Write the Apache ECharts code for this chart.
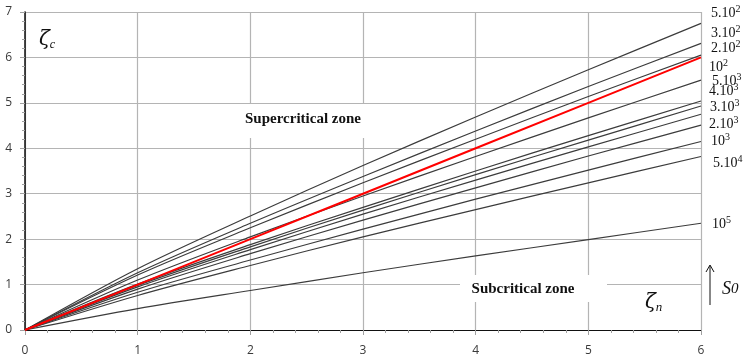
<!DOCTYPE html>
<html>
<head>
<meta charset="utf-8">
<script src="https://cdn.jsdelivr.net/npm/echarts@6/dist/echarts.min.js"></script>
<style>html,body{margin:0;padding:0;background:#fff}#c{width:746px;height:360px}</style>
</head>
<body>
<div id="c"></div>
<script>
// x positions (zeta_n) where curves are read
var xs = [0, 1, 2, 3, 4, 5, 6];
// gray/black curves (zeta_c values read at xs)
var curve1  = [0, 1.35, 2.51, 3.62, 4.69, 5.73, 6.75];
var curve2  = [0, 1.26, 2.35, 3.38, 4.38, 5.36, 6.31];
var curve3  = [0, 1.21, 2.25, 3.24, 4.20, 5.14, 6.05];
var curve4  = [0, 1.10, 2.05, 2.95, 3.82, 4.67, 5.50];
var curve5  = [0, 1.01, 1.88, 2.70, 3.50, 4.28, 5.04];
var curve6  = [0, 0.98, 1.83, 2.64, 3.42, 4.18, 4.93];
var curve7  = [0, 0.95, 1.77, 2.55, 3.30, 4.03, 4.75];
var curve8  = [0, 0.90, 1.68, 2.42, 3.13, 3.83, 4.51];
var curve9  = [0, 0.83, 1.54, 2.22, 2.88, 3.52, 4.15];
var curve10 = [0, 0.76, 1.42, 2.05, 2.65, 3.24, 3.82];
var curve11 = [0, 0.47, 0.87, 1.26, 1.63, 1.99, 2.35];
// critical (red) line
var critical = [0, 1, 2, 3, 4, 5, 6];
var grayCurves = [curve1, curve2, curve3, curve4, curve5, curve6, curve7, curve8, curve9, curve10, curve11];
// S0 labels on the right
var s0Labels = [
  ['5.10', '2'], ['3.10', '2'], ['2.10', '2'], ['10', '2'],
  ['5.10', '3'], ['4.10', '3'], ['3.10', '3'], ['2.10', '3'],
  ['10', '3'], ['5.10', '4'], ['10', '5']
];
var xTicks = [0, 1, 2, 3, 4, 5, 6];
var yTicks = [0, 1, 2, 3, 4, 5, 6, 7];

function pts(arr) { return xs.map(function (x, i) { return [x, arr[i]]; }); }

var series = grayCurves.map(function (c) {
  return { type: 'line', data: pts(c), smooth: 0.3, symbol: 'none', silent: true,
    lineStyle: { color: '#3c3c3c', width: 1.2 }, z: 2 };
});
series.push({ type: 'line', data: pts(critical), symbol: 'none', silent: true,
  lineStyle: { color: '#ff0000', width: 2 }, z: 3 });

var labelPos = [
  [711, 12], [711, 32], [711, 47], [709, 66], [712, 80], [709, 90],
  [710, 106], [709, 123], [711, 140], [713, 162], [712, 223]
];
var serifRich = {
  a: { fontFamily: 'Liberation Serif', fontSize: 14, fill: '#111', lineHeight: 16, verticalAlign: 'bottom' },
  s: { fontFamily: 'Liberation Serif', fontSize: 10, fill: '#111', lineHeight: 16, verticalAlign: 'top', padding: [0, 0, 6, 0] }
};
var graphics = s0Labels.map(function (l, i) {
  return { type: 'text', x: labelPos[i][0], y: labelPos[i][1], z: 20,
    style: { text: '{a|' + l[0] + '}{s|' + l[1] + '}', rich: serifRich, verticalAlign: 'middle' } };
});
graphics = graphics.concat([
  { type: 'rect', shape: { x: 236, y: 104, width: 134, height: 34 }, style: { fill: '#fff' }, z: 10 },
  { type: 'text', x: 303, y: 119, z: 20, style: { text: 'Supercritical zone', font: 'bold 15px "Liberation Serif"', fill: '#111', align: 'center', verticalAlign: 'middle' } },
  { type: 'rect', shape: { x: 460, y: 275, width: 147, height: 27 }, style: { fill: '#fff' }, z: 10 },
  { type: 'text', x: 523, y: 289, z: 20, style: { text: 'Subcritical zone', font: 'bold 15px "Liberation Serif"', fill: '#111', align: 'center', verticalAlign: 'middle' } },
  { type: 'text', x: 39, y: 40, z: 20, style: { text: '{z|ζ}{c|c}', verticalAlign: 'middle',
    rich: { z: { fontFamily: 'DejaVu Serif', fontStyle: 'italic', fontSize: 20, fill: '#111', lineHeight: 22 },
            c: { fontFamily: 'Liberation Serif', fontStyle: 'italic', fontSize: 12, fill: '#111', lineHeight: 22, verticalAlign: 'bottom' } } } },
  { type: 'text', x: 645, y: 303, z: 20, style: { text: '{z|ζ}{c|n}', verticalAlign: 'middle',
    rich: { z: { fontFamily: 'DejaVu Serif', fontStyle: 'italic', fontSize: 20, fill: '#111', lineHeight: 22 },
            c: { fontFamily: 'Liberation Serif', fontStyle: 'italic', fontSize: 13, fill: '#111', lineHeight: 22, verticalAlign: 'bottom' } } } },
  { type: 'line', shape: { x1: 710, y1: 305, x2: 710, y2: 266 }, style: { stroke: '#111', lineWidth: 1 }, z: 20 },
  { type: 'polyline', shape: { points: [[706, 272], [710, 265], [714, 272]] }, style: { stroke: '#111', lineWidth: 1, fill: null }, z: 20 },
  { type: 'text', x: 722, y: 289, z: 20, style: { text: '{s|S}{o|0}', verticalAlign: 'middle',
    rich: { s: { fontFamily: 'Liberation Serif', fontStyle: 'italic', fontSize: 18, fill: '#111' },
            o: { fontFamily: 'Liberation Serif', fontStyle: 'italic', fontSize: 15, fill: '#111' } } } }
]);

var axisGray = '#a0a0a0';
var chart = echarts.init(document.getElementById('c'), null, { renderer: 'canvas' });
chart.setOption({
  animation: false,
  backgroundColor: '#fff',
  grid: { left: 25, right: 45, top: 12, bottom: 30 },
  xAxis: [{
    type: 'value', min: xTicks[0], max: xTicks[xTicks.length - 1], interval: 1,
    axisLine: { show: true, lineStyle: { color: axisGray, width: 1 } },
    axisTick: { show: true, length: 5, lineStyle: { color: axisGray } },
    minorTick: { show: true, splitNumber: 5, length: 3, lineStyle: { color: axisGray } },
    splitLine: { show: true, lineStyle: { color: '#b4b4b4', width: 1.2 } },
    axisLabel: { color: '#3a3a3a', fontSize: 12, margin: 15, fontFamily: 'Open Sans' }
  }, {
    type: 'value', position: 'top', min: 0, max: 6,
    axisLine: { show: true, lineStyle: { color: '#111', width: 1.2 } },
    axisTick: { show: false }, axisLabel: { show: false }, splitLine: { show: false }
  }],
  yAxis: [{
    type: 'value', min: yTicks[0], max: yTicks[yTicks.length - 1], interval: 1,
    axisLine: { show: true, lineStyle: { color: axisGray, width: 1 } },
    axisTick: { show: true, length: 5, lineStyle: { color: axisGray } },
    minorTick: { show: true, splitNumber: 5, length: 3, lineStyle: { color: axisGray } },
    splitLine: { show: true, lineStyle: { color: '#b4b4b4', width: 1.2 } },
    axisLabel: { color: '#3a3a3a', fontSize: 12, margin: 13, fontFamily: 'Open Sans' }
  }, {
    type: 'value', position: 'right', min: 0, max: 7,
    axisLine: { show: true, lineStyle: { color: '#111', width: 1.5 } },
    axisTick: { show: false }, axisLabel: { show: false }, splitLine: { show: false }
  }],
  series: series,
  graphic: { elements: graphics }
});
</script>
</body>
</html>
